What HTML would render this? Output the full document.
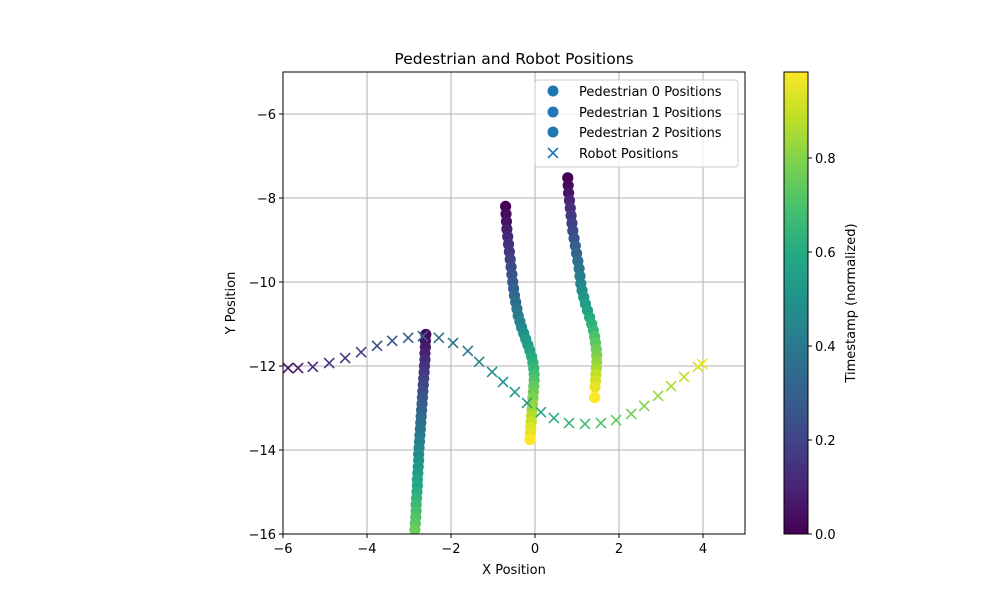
<!DOCTYPE html>
<html><head><meta charset="utf-8">
<style>
html,body{margin:0;padding:0;background:#fff;}
svg{display:block;font-family:"DejaVu Sans","Liberation Sans",sans-serif;}
</style></head>
<body>
<svg id="chart" width="1000" height="600" viewBox="0 0 1000 600" xmlns="http://www.w3.org/2000/svg">
<defs>
<linearGradient id="vir" x1="0" y1="1" x2="0" y2="0">
<stop offset="0" stop-color="#440154"/><stop offset="0.1" stop-color="#482475"/><stop offset="0.2" stop-color="#414487"/><stop offset="0.3" stop-color="#355f8d"/><stop offset="0.4" stop-color="#2a788e"/><stop offset="0.5" stop-color="#21918c"/><stop offset="0.6" stop-color="#22a884"/><stop offset="0.7" stop-color="#44bf70"/><stop offset="0.8" stop-color="#7ad151"/><stop offset="0.9" stop-color="#bddf26"/><stop offset="1" stop-color="#fde725"/>
</linearGradient>
<clipPath id="plotclip"><rect x="283" y="72" width="462" height="462"/></clipPath>
</defs>
<text x="514" y="64" font-size="15.5" text-anchor="middle">Pedestrian and Robot Positions</text>
<g id="grid"></g>
<g id="marks" clip-path="url(#plotclip)"></g>
<rect x="283" y="72" width="462" height="462" fill="none" stroke="#000" stroke-width="1"/>
<g id="ticks" font-size="13"></g>
<text x="514" y="574" font-size="13" text-anchor="middle">X Position</text>
<text x="235" y="303" font-size="13" text-anchor="middle" transform="rotate(-90 235 303)">Y Position</text>
<g>
<rect x="535" y="80" width="203" height="87" rx="3" fill="#fff" fill-opacity="0.8" stroke="#ccc"/>
<circle cx="553" cy="91" r="5.5" fill="#1f77b4"/>
<text x="579" y="96" font-size="13">Pedestrian 0 Positions</text>
<circle cx="553" cy="112" r="5.5" fill="#1f77b4"/>
<text x="579" y="117" font-size="13">Pedestrian 1 Positions</text>
<circle cx="553" cy="132" r="5.5" fill="#1f77b4"/>
<text x="579" y="137" font-size="13">Pedestrian 2 Positions</text>
<path d="M548 148 L558 158 M558 148 L548 158" stroke="#1f77b4" stroke-width="1.6"/>
<text x="579" y="158" font-size="13">Robot Positions</text>
</g>
<rect x="784" y="72" width="24" height="462" fill="url(#vir)" stroke="#000" stroke-width="1"/>
<g id="cbticks" font-size="13"></g>
<text x="855" y="303" font-size="13" text-anchor="middle" transform="rotate(-90 855 303)">Timestamp (normalized)</text>
</svg>
<script>
const xTicks=[-6,-4,-2,0,2,4];
const yTicks=[-6,-8,-10,-12,-14,-16];
const cbTicks=[0,0.2,0.4,0.6,0.8];
const cbTickLabels=["0.0","0.2","0.4","0.6","0.8"];
const ped0X=[-2.6,-2.61,-2.61,-2.62,-2.62,-2.63,-2.64,-2.65,-2.66,-2.67,-2.68,-2.69,-2.7,-2.71,-2.72,-2.73,-2.74,-2.75,-2.76,-2.77,-2.77,-2.78,-2.79,-2.8,-2.8,-2.81,-2.82,-2.83,-2.83,-2.84,-2.85,-2.86];
const ped0Y=[-11.25,-11.4,-11.55,-11.7,-11.85,-12.0,-12.15,-12.3,-12.45,-12.6,-12.75,-12.9,-13.05,-13.2,-13.35,-13.5,-13.65,-13.8,-13.95,-14.1,-14.25,-14.4,-14.55,-14.7,-14.85,-15.0,-15.15,-15.3,-15.45,-15.6,-15.75,-15.9];
const ped0T=[0.02,0.04,0.07,0.09,0.12,0.14,0.16,0.19,0.21,0.23,0.26,0.28,0.31,0.33,0.35,0.38,0.4,0.42,0.45,0.47,0.5,0.52,0.54,0.57,0.59,0.61,0.64,0.66,0.69,0.71,0.73,0.76];
const ped1X=[-0.7,-0.69,-0.68,-0.67,-0.65,-0.63,-0.61,-0.59,-0.57,-0.55,-0.53,-0.51,-0.49,-0.46,-0.43,-0.4,-0.36,-0.32,-0.27,-0.22,-0.17,-0.12,-0.08,-0.05,-0.03,-0.02,-0.02,-0.03,-0.04,-0.05,-0.06,-0.07,-0.08,-0.09,-0.1,-0.11,-0.12];
const ped1Y=[-8.2,-8.38,-8.56,-8.74,-8.92,-9.1,-9.28,-9.46,-9.64,-9.82,-10.0,-10.16,-10.32,-10.48,-10.64,-10.8,-10.94,-11.08,-11.22,-11.36,-11.5,-11.64,-11.78,-11.92,-12.06,-12.2,-12.34,-12.48,-12.62,-12.76,-12.9,-13.04,-13.18,-13.32,-13.46,-13.6,-13.75];
const ped1T=[0,0.03,0.05,0.08,0.11,0.14,0.16,0.19,0.22,0.25,0.27,0.3,0.33,0.35,0.38,0.41,0.44,0.46,0.49,0.52,0.54,0.57,0.6,0.63,0.65,0.68,0.71,0.74,0.76,0.79,0.82,0.84,0.87,0.9,0.93,0.95,0.98];
const ped2X=[0.78,0.79,0.8,0.82,0.84,0.86,0.88,0.9,0.93,0.96,0.99,1.02,1.05,1.07,1.09,1.12,1.16,1.2,1.25,1.3,1.35,1.39,1.42,1.44,1.46,1.47,1.47,1.46,1.45,1.44,1.43,1.42];
const ped2Y=[-7.52,-7.7,-7.88,-8.06,-8.24,-8.42,-8.6,-8.78,-8.96,-9.14,-9.32,-9.5,-9.68,-9.86,-10.04,-10.2,-10.36,-10.52,-10.68,-10.84,-11.0,-11.15,-11.3,-11.45,-11.6,-11.75,-11.9,-12.05,-12.2,-12.35,-12.5,-12.75];
const ped2T=[0,0.03,0.06,0.1,0.13,0.16,0.19,0.22,0.25,0.29,0.32,0.35,0.38,0.41,0.44,0.47,0.51,0.54,0.57,0.6,0.63,0.66,0.7,0.73,0.76,0.79,0.82,0.85,0.89,0.92,0.95,0.98];
const robotX=[-5.88,-5.64,-5.29,-4.9,-4.52,-4.14,-3.76,-3.4,-3.02,-2.67,-2.29,-1.95,-1.6,-1.33,-1.02,-0.76,-0.48,-0.19,0.14,0.45,0.81,1.19,1.57,1.93,2.29,2.6,2.93,3.24,3.55,3.88,3.98];
const robotY=[-12.05,-12.05,-12.02,-11.93,-11.81,-11.67,-11.52,-11.4,-11.33,-11.29,-11.33,-11.45,-11.64,-11.9,-12.14,-12.38,-12.62,-12.88,-13.1,-13.24,-13.36,-13.38,-13.36,-13.29,-13.14,-12.95,-12.71,-12.48,-12.26,-12.02,-11.95];
const robotT=[0.05,0.08,0.11,0.14,0.17,0.2,0.23,0.26,0.29,0.32,0.35,0.38,0.41,0.44,0.47,0.5,0.53,0.56,0.59,0.62,0.65,0.68,0.71,0.74,0.77,0.8,0.83,0.86,0.89,0.92,0.95];

const NS="http://www.w3.org/2000/svg";
const X0=283,X1=745,Y0=72,Y1=534,xmin=-6,xmax=5,ymin=-16,ymax=-5,cmax=0.983;
function sx(v){return X0+(v-xmin)/(xmax-xmin)*(X1-X0);}
function sy(v){return Y1-(v-ymin)/(ymax-ymin)*(Y1-Y0);}
function cy(v){return Y1-v/cmax*(Y1-Y0);}
const vir=[[68,1,84],[72,36,117],[65,68,135],[53,95,141],[42,120,142],[33,145,140],[34,168,132],[68,191,112],[122,209,81],[189,223,38],[253,231,37]];
function col(t){t=Math.max(0,Math.min(1,t/cmax));const f=t*10,i=Math.min(9,Math.floor(f)),r=f-i;const a=vir[i],b=vir[i+1];return 'rgb('+a.map((c,k)=>Math.round(c+(b[k]-c)*r)).join(',')+')';}
function mk(tag,attrs,parent){const e=document.createElementNS(NS,tag);for(const k in attrs)e.setAttribute(k,attrs[k]);parent.appendChild(e);return e;}
const grid=document.getElementById('grid'),ticks=document.getElementById('ticks'),marks=document.getElementById('marks'),cbt=document.getElementById('cbticks');
xTicks.forEach(v=>{const x=sx(v);
 const g=mk('line',{x1:x,x2:x,y1:Y0,y2:Y1,stroke:'#b0b0b0','stroke-width':1},grid);
 
 
 const t=mk('line',{x1:x,x2:x,y1:Y1,y2:Y1+4,stroke:'#000'},ticks);
 
 
 const l=mk('text',{x:x,y:Y1+19,'text-anchor':'middle'},ticks);l.textContent=(v<0?'\u2212'+(-v):String(v));
 
 
});
yTicks.forEach(v=>{const y=sy(v);
 const g=mk('line',{x1:X0,x2:X1,y1:y,y2:y,stroke:'#b0b0b0','stroke-width':1},grid);
 
 
 const t=mk('line',{x1:X0-4,x2:X0,y1:y,y2:y,stroke:'#000'},ticks);
 
 
 const l=mk('text',{x:X0-7,y:y+5,'text-anchor':'end'},ticks);l.textContent='\u2212'+(-v);
 
 
});
cbTicks.forEach((v,i)=>{const y=cy(v);
 const t=mk('line',{x1:808,x2:812,y1:y,y2:y,stroke:'#000'},cbt);
 
 
 const l=mk('text',{x:815,y:y+5},cbt);l.textContent=cbTickLabels[i];
 
 
});
function peds(X,Y,T,name){X.forEach((x,i)=>{const c=mk('circle',{cx:sx(x),cy:sy(Y[i]),r:5.6,fill:col(T[i])},marks);
 
 });}
peds(ped0X,ped0Y,ped0T,'pedestrian-0-point');
peds(ped1X,ped1Y,ped1T,'pedestrian-1-point');
peds(ped2X,ped2Y,ped2T,'pedestrian-2-point');
robotX.forEach((x,i)=>{const px=sx(x),py=sy(robotY[i]),d=5;
 const p=mk('path',{d:`M${px-d} ${py-d} L${px+d} ${py+d} M${px+d} ${py-d} L${px-d} ${py+d}`,stroke:col(robotT[i]),'stroke-width':1.6,fill:'none'},marks);
 
 
});
</script>
</body></html>
